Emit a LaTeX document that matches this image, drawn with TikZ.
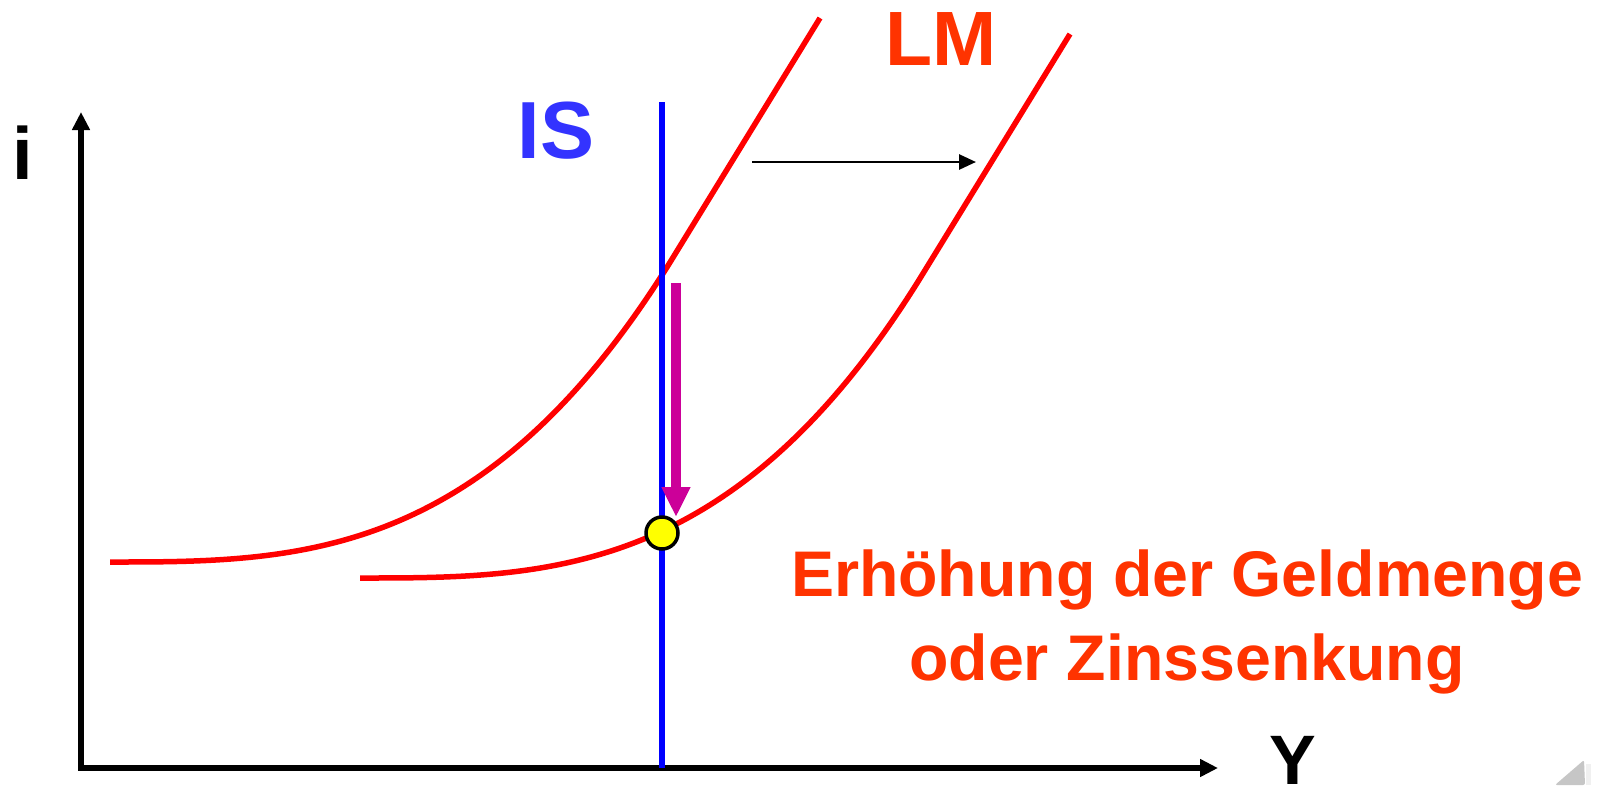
\documentclass[tikz,border=0pt]{standalone}
\usepackage{fontspec}
\setmainfont{Liberation Sans}
\usetikzlibrary{arrows.meta}
\definecolor{lmred}{HTML}{FF3300}
\definecolor{curvered}{HTML}{FF0000}
\definecolor{isblue}{HTML}{3333FF}
\definecolor{lineblue}{HTML}{0000FF}
\definecolor{magen}{HTML}{CC0099}
\definecolor{dotyellow}{HTML}{FFFF00}
\begin{document}
\begin{tikzpicture}[x=1pt,y=-1pt,
  lmcurve/.style={draw=curvered,line width=5.5pt},
  isline/.style={draw=lineblue,line width=5.5pt},
  shiftarrow/.style={line width=2.8pt,-{Triangle[length=17pt,width=15pt]}},
  droparrow/.style={draw=magen,line width=10pt,-{Triangle[length=30pt,width=27pt]}},
  eqdot/.style={circle,draw=black,fill=dotyellow,line width=3.5pt,minimum size=32pt,inner sep=0pt},
  lbl/.style={inner sep=0pt,anchor=base,font=\bfseries}]
\useasboundingbox (0,0) rectangle (1597,785);
\fill[white] (0,0) rectangle (1597,785);
% axes
\coordinate (origin) at (81,768);
\coordinate (ytip) at (81,112);
\coordinate (xtip) at (1218,768);
\draw[line width=5.5pt,{Triangle[length=18pt,width=17pt]}-{Triangle[length=18pt,width=17pt]}] (ytip) -- (origin) -- (xtip);
% LM curves
\draw[lmcurve] (110,562) .. controls (296,562) and (483,562) .. (669,264) -- (820,18);
\draw[lmcurve,shift={(250,16)}] (110,562) .. controls (296,562) and (483,562) .. (669,264) -- (820,18);
% IS line
\coordinate (istop) at (662,102);
\coordinate (isbot) at (662,768);
\draw[isline] (istop) -- (isbot);
% shift arrow
\coordinate (sa) at (752,162);
\coordinate (sb) at (976,162);
\draw[shiftarrow] (sa) -- (sb);
% drop arrow
\coordinate (da) at (676,283);
\coordinate (db) at (676,517);
\draw[droparrow] (da) -- (db);
% equilibrium dot
\node[eqdot] (eq) at (662,533) {};
% labels
\node[lbl,font=\bfseries\fontsize{74}{80}\selectfont] (ilab) at (22.5,179) {i};
\node[lbl,font=\bfseries\fontsize{70}{76}\selectfont] (ylab) at (1293,784) {Y};
\node[lbl,font=\bfseries\fontsize{81}{88}\selectfont,text=isblue] (islab) at (556,158) {IS};
\node[lbl,font=\bfseries\fontsize{77}{84}\selectfont,text=lmred] (lmlab) at (941,65.5) {LM};
\node[lbl,font=\bfseries\fontsize{64.5}{84}\selectfont,text=lmred] (txta) at (1187,596) {Erhöhung der Geldmenge};
\node[lbl,font=\bfseries\fontsize{64.5}{84}\selectfont,text=lmred] (txtb) at (1187,680) {oder Zinssenkung};
% page corner artifact
\fill[gray!12] (1586,764) rectangle (1591,785);
\fill[gray!45,rounded corners=2pt] (1555,785) -- (1584,760) -- (1585,785) -- cycle;
\end{tikzpicture}
\end{document}
